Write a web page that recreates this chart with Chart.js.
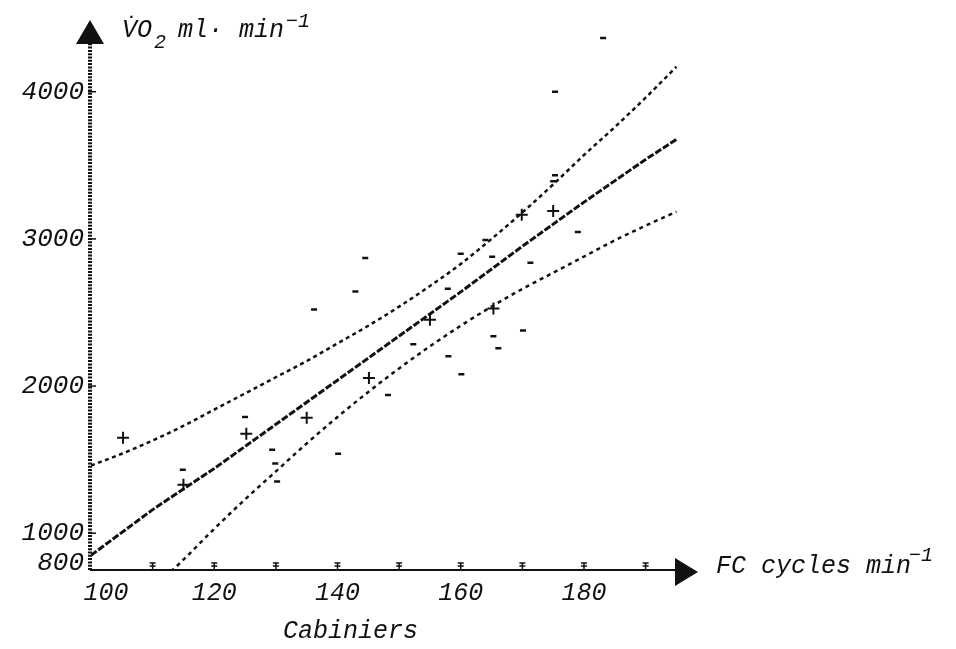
<!DOCTYPE html>
<html><head><meta charset="utf-8">
<script src="https://cdn.jsdelivr.net/npm/chart.js@4/dist/chart.umd.min.js"></script>
<style>html,body{margin:0;padding:0;background:#fff}#wrap{width:956px;height:649px}</style>
</head><body><div id="wrap"><canvas id="c" width="956" height="649"></canvas></div>
<script>
// ---- data ----
const xTicks = [100, 120, 140, 160, 180];
const yTicks = [800, 1000, 2000, 3000, 4000];
const xMinorTicks = [110, 120, 130, 140, 150, 160, 170, 180, 190];
const yMarkTicks = [1000, 2000, 3000, 4000];

const regressionLine = [[100,850],[110,1160],[120,1440],[130,1740],[140,2040],[150,2340],[160,2640],[170,2950],[180,3250],[190,3540],[195,3676]];
const upperBand = [[100,1460],[105,1540],[110,1630],[115,1730],[120,1840],[125,1950],[130,2060],[135,2170],[140,2290],[145,2410],[150,2540],[155,2680],[160,2830],[165,3000],[170,3180],[175,3370],[180,3570],[185,3760],[190,3960],[195,4170]];
const lowerBand = [[113,740],[115,820],[120,1030],[125,1230],[130,1420],[135,1610],[140,1790],[145,1960],[150,2120],[155,2270],[160,2410],[165,2540],[170,2660],[175,2770],[180,2880],[185,2990],[190,3090],[195,3185]];
const dashPoints = [[114.9,1432],[125,1790],[129.4,1568],[129.9,1473],[130.2,1351],[136.2,2520],[142.9,2642],[140.1,1540],[148.2,1939],[152.3,2284],[158,2203],[160.1,2081],[157.9,2662],[165.3,2338],[166.1,2257],[170.1,2378],[171.3,2838],[179,3047],[164,2993],[165.1,2878],[175.3,3432],[175,3392],[183.1,4365],[175.3,4000],[160,2899],[144.5,2870]];
const crossPoints = [[105.2,1649],[125.2,1676],[115,1330],[135,1784],[145.1,2054],[155,2450],[165.3,2527],[175,3190],[169.9,3164]];

const toXY = a => a.map(p => ({x: p[0], y: p[1]}));
const INK = '#111';
const FONT = '"Liberation Mono", "DejaVu Sans Mono", monospace';

const axesPlugin = {
  id: 'axesPlugin',
  afterDraw(chart) {
    const ctx = chart.ctx, xs = chart.scales.x, ys = chart.scales.y;
    const x0 = xs.getPixelForValue(100) - 1;
    const yb = ys.getPixelForValue(750);
    ctx.save();
    ctx.strokeStyle = INK; ctx.fillStyle = INK;
    // y axis (ruler-like dotted thick line)
    ctx.lineWidth = 4; ctx.setLineDash([2, 1.3]);
    ctx.beginPath(); ctx.moveTo(x0, yb); ctx.lineTo(x0, 42); ctx.stroke();
    ctx.setLineDash([]);
    // y tick marks
    ctx.lineWidth = 1.5;
    yMarkTicks.forEach(v => { const y = ys.getPixelForValue(v); ctx.beginPath(); ctx.moveTo(x0 - 2, y); ctx.lineTo(x0 + 6, y); ctx.stroke(); });
    // x axis
    const xe = xs.getPixelForValue(195);
    ctx.lineWidth = 2;
    ctx.beginPath(); ctx.moveTo(x0, yb); ctx.lineTo(xe + 2, yb); ctx.stroke();
    // x minor tick marks
    ctx.lineWidth = 1.5;
    xMinorTicks.forEach(v => { const x = xs.getPixelForValue(v);
      ctx.beginPath(); ctx.moveTo(x - 3, yb - 7); ctx.lineTo(x + 3, yb - 7); ctx.moveTo(x - 3, yb - 4); ctx.lineTo(x + 3, yb - 4);
      ctx.moveTo(x, yb - 7); ctx.lineTo(x, yb); ctx.stroke(); });
    // arrows
    ctx.beginPath(); ctx.moveTo(x0, 20); ctx.lineTo(x0 - 14, 44); ctx.lineTo(x0 + 14, 44); ctx.closePath(); ctx.fill();
    ctx.beginPath(); ctx.moveTo(698, yb + 2); ctx.lineTo(675, yb - 12); ctx.lineTo(675, yb + 16); ctx.closePath(); ctx.fill();
    // texts
    ctx.textBaseline = 'alphabetic'; ctx.textAlign = 'left';
    ctx.font = 'italic 25px ' + FONT;
    ctx.fillText('V\u0307O', 122, 37);
    ctx.fillText('ml\u00B7', 178, 37);
    ctx.fillText('min', 239, 37);
    ctx.font = 'italic 20px ' + FONT;
    ctx.fillText('2', 154, 48);
    ctx.fillText('\u22121', 286, 27);
    ctx.font = 'italic 25px ' + FONT;
    ctx.fillText('FC cycles min', 716, 573);
    ctx.font = 'italic 20px ' + FONT;
    ctx.fillText('\u22121', 909, 561);
    ctx.font = 'italic 25px ' + FONT;
    ctx.fillText('Cabiniers', 283, 638);
    ctx.restore();
  }
};

new Chart(document.getElementById('c'), {
  type: 'scatter',
  data: {
    datasets: [
      { type: 'line', data: toXY(upperBand), borderColor: INK, borderWidth: 2.5, borderDash: [4, 3.5], pointRadius: 0, cubicInterpolationMode: 'monotone', fill: false },
      { type: 'line', data: toXY(regressionLine), borderColor: INK, borderWidth: 3, borderDash: [7, 2], pointRadius: 0, fill: false },
      { type: 'line', data: toXY(lowerBand), borderColor: INK, borderWidth: 2.5, borderDash: [4, 4], pointRadius: 0, cubicInterpolationMode: 'monotone', fill: false },
      { data: toXY(dashPoints), pointStyle: 'line', pointRadius: 3, borderColor: INK, borderWidth: 2.5, backgroundColor: INK },
      { data: toXY(crossPoints), pointStyle: 'cross', pointRadius: 6, borderColor: INK, borderWidth: 2, backgroundColor: INK }
    ]
  },
  options: {
    responsive: false, animation: false,
    layout: { padding: { left: 0, right: 258, top: 20, bottom: 0 } },
    plugins: { legend: { display: false }, tooltip: { enabled: false } },
    scales: {
      x: { type: 'linear', min: 100, max: 198.5,
        afterFit: s => { s.height = 79; },
        afterBuildTicks: s => { s.ticks = xTicks.map(v => ({ value: v })); },
        grid: { display: false, drawTicks: false }, border: { display: false },
        ticks: { color: INK, padding: 8, maxRotation: 0, font: { family: FONT, size: 25, style: 'italic' },
          callback: v => (v === 100 ? '  100' : String(v)) } },
      y: { type: 'linear', min: 750, max: 4470,
        afterFit: s => { s.width = 91; },
        afterBuildTicks: s => { s.ticks = yTicks.map(v => ({ value: v })); },
        grid: { display: false, drawTicks: false }, border: { display: false },
        ticks: { color: INK, padding: 7, font: { family: FONT, size: 26, style: 'italic' },
          callback: v => String(v) } }
    }
  },
  plugins: [axesPlugin]
});
</script></body></html>
